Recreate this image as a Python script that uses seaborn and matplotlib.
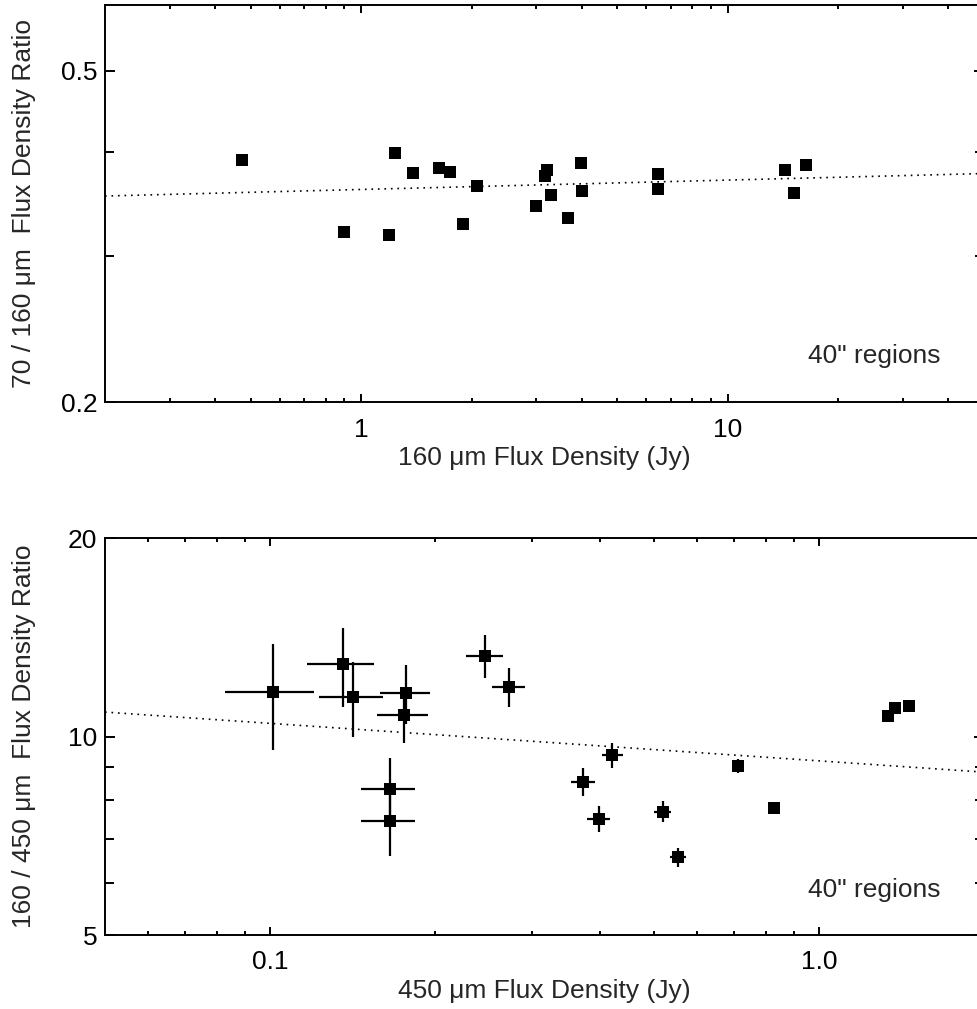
import matplotlib
matplotlib.use("Agg")
import matplotlib.pyplot as plt
from matplotlib.ticker import NullFormatter
import pandas as pd
import seaborn as sns

# upper panel: 70/160 ratio vs 160 um flux
top_flux160 = [0.472, 0.897, 1.188, 1.235, 1.382, 1.630, 1.749, 1.897, 2.07, 3.00,
               3.17, 3.22, 3.29, 3.67, 3.97, 4.00, 6.47, 6.47, 14.36, 15.2, 16.3]
top_ratio = [0.391, 0.3206, 0.318, 0.399, 0.3774, 0.3826, 0.378, 0.3278, 0.364, 0.3445,
             0.374, 0.380, 0.3548, 0.3333, 0.388, 0.359, 0.3763, 0.361, 0.3805, 0.357, 0.385]
top_fit_x = [0.2, 50.0]
top_fit_y = [0.3538, 0.3765]

# lower panel: 160/450 ratio vs 450 um flux
bot_flux450 = [0.1013, 0.1356, 0.1417, 0.1771, 0.175, 0.1651, 0.1651, 0.2466, 0.2723, 0.3721,
               0.3974, 0.4204, 0.5194, 0.5546, 0.713, 0.827, 1.335, 1.376, 1.457]
bot_ratio = [11.68, 12.86, 11.47, 11.65, 10.78, 8.33, 7.45, 13.26, 11.90, 8.54,
             7.51, 9.37, 7.69, 6.56, 9.02, 7.80, 10.74, 11.03, 11.13]
bot_flux_err = [0.0187, 0.0187, 0.0187, 0.0187, 0.0187, 0.0187, 0.0187, 0.0187, 0.0187, 0.0187,
                0.0187, 0.0187, 0.0187, 0.0187, 0.0187, 0.0187, 0.0187, 0.0187, 0.0187]
bot_ratio_err = [2.15, 1.77, 1.5, 1.2, 1.0, 0.95, 0.86, 1.0, 0.8, 0.42,
                 0.34, 0.42, 0.28, 0.22, 0.22, 0.15, 0.1, 0.1, 0.1]
bot_fit_x = [0.05, 2.0]
bot_fit_y = [10.89, 8.83]

sns.set_style("ticks")
plt.rcParams['font.family'] = ['Liberation Sans', 'DejaVu Sans']
FS = 19

W, H = 978, 1009
fig = plt.figure(figsize=(W / 100, H / 100), dpi=100)
ax1 = fig.add_axes([105 / W, 1 - 402.3 / H, 879 / W, 397.3 / H])
ax2 = fig.add_axes([105 / W, 1 - 935 / H, 879 / W, 397 / H])

df_top = pd.DataFrame({'flux': top_flux160, 'ratio': top_ratio})
df_bot = pd.DataFrame({'flux': bot_flux450, 'ratio': bot_ratio})

# error bars first, then squares on top
ax2.errorbar(bot_flux450, bot_ratio, xerr=bot_flux_err, yerr=bot_ratio_err,
             fmt='none', ecolor='black', elinewidth=1.6, capsize=0, zorder=2)

for ax, df, fx, fy in [(ax1, df_top, top_fit_x, top_fit_y), (ax2, df_bot, bot_fit_x, bot_fit_y)]:
    ax.set_xscale('log')
    ax.set_yscale('log')
    sns.scatterplot(data=df, x='flux', y='ratio', marker='s', s=74, color='black',
                    linewidth=0, ax=ax, zorder=3, legend=False)
    ax.plot(fx, fy, color='black', linewidth=1.2, linestyle=(0, (1, 2.9)), zorder=1)

# axis setup
ax1.set_xlim(0.2, 50)
ax1.set_ylim(0.2, 0.6)
ax1.set_xticks([1, 10], labels=['1', '10'])
ax1.set_xticks([0.3, 0.4, 0.5, 0.6, 0.7, 0.8, 0.9, 2, 3, 4, 5, 6, 7, 8, 9, 20, 30, 40], minor=True)
ax1.set_yticks([0.2, 0.5], labels=['0.2', '0.5'])
ax1.set_yticks([0.3, 0.4], minor=True)

ax2.set_xlim(0.05, 2.0)
ax2.set_ylim(5, 20)
ax2.set_xticks([0.1, 1.0], labels=['0.1', '1.0'])
ax2.set_xticks([0.06, 0.07, 0.08, 0.09, 0.2, 0.3, 0.4, 0.5, 0.6, 0.7, 0.8, 0.9], minor=True)
ax2.set_yticks([5, 10, 20], labels=['5', '10', '20'])
ax2.set_yticks([6, 7, 8, 9], minor=True)

for ax in (ax1, ax2):
    ax.xaxis.set_minor_formatter(NullFormatter())
    ax.yaxis.set_minor_formatter(NullFormatter())
    for sp in ax.spines.values():
        sp.set_linewidth(1.4)
        sp.set_color('black')
    ax.tick_params(which='both', direction='in', top=True, right=True, width=1.4, colors='black')
    ax.tick_params(axis='x', which='major', length=5.8, pad=11, labelsize=FS)
    ax.tick_params(axis='x', which='minor', length=2.6)
    ax.tick_params(axis='y', which='major', length=7.2, pad=5.5, labelsize=FS)
    ax.tick_params(axis='y', which='minor', length=6.5)
    ax.grid(False)

ax1.set_xlabel('160 \u03bcm Flux Density (Jy)', fontsize=FS)
ax1.set_ylabel('70 / 160 \u03bcm  Flux Density Ratio', fontsize=FS)
ax2.set_xlabel('450 \u03bcm Flux Density (Jy)', fontsize=FS)
ax2.set_ylabel('160 / 450 \u03bcm  Flux Density Ratio', fontsize=FS)
for ax in (ax1, ax2):
    ax.xaxis.set_label_coords(0.5, -0.159)
    ax.xaxis.label.set_verticalalignment('baseline')
    ax.yaxis.set_label_coords(-0.092, 0.5)
    ax.yaxis.label.set_verticalalignment('center')

ax1.text(0.95, 0.098, '40" regions', transform=ax1.transAxes, ha='right', va='baseline', fontsize=FS)
ax2.text(0.95, 0.0965, '40" regions', transform=ax2.transAxes, ha='right', va='baseline', fontsize=FS)

fig.savefig('out.png', dpi=100)
